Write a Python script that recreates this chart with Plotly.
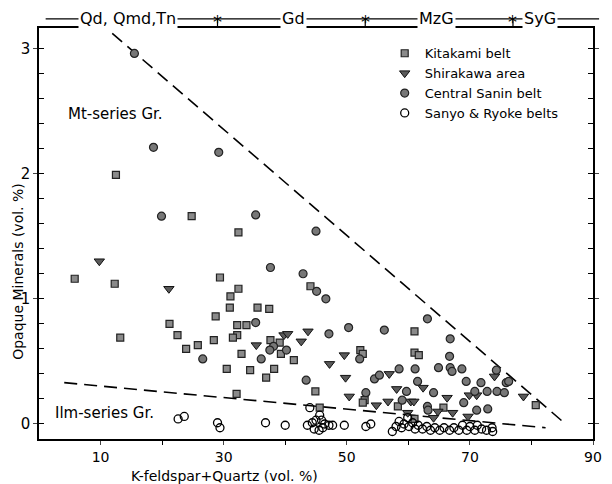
import plotly.graph_objects as go

# ---------------- data ----------------
kitakami_x = [12.5, 24.8, 32.4, 29.4, 5.8, 12.3, 32.4, 44.1, 31.1, 31.0, 35.5, 37.4, 28.7, 21.2,
              32.2, 33.7, 32.2, 31.5, 22.5, 13.2, 28.4, 25.8, 23.9, 30.5, 37.6, 39.1, 39.3, 32.9,
              41.4, 34.3, 38.2, 36.9, 52.2, 52.6, 32.1, 44.9, 52.9, 52.6, 45.6, 61.0, 61.0, 61.7,
              58.3, 65.7, 80.7, 61.0]
kitakami_y = [1.99, 1.66, 1.53, 1.17, 1.16, 1.12, 1.08, 1.10, 1.02, 0.93, 0.93, 0.92, 0.86, 0.80,
              0.79, 0.79, 0.71, 0.69, 0.71, 0.69, 0.67, 0.63, 0.60, 0.44, 0.67, 0.65, 0.56, 0.56,
              0.51, 0.43, 0.44, 0.37, 0.59, 0.56, 0.24, 0.26, 0.19, 0.17, 0.13, 0.74, 0.57, 0.55,
              0.14, 0.13, 0.15, 0.04]

shirakawa_x = [9.8, 21.1, 35.3, 39.8, 40.4, 43.7, 42.6, 47.2, 49.6, 49.8, 56.9, 50.4, 54.8, 56.7,
               74.0, 62.4, 58.1, 66.3, 71.1, 69.9, 78.7, 60.4, 60.9, 64.8, 67.2, 69.7, 59.9, 64.1]
shirakawa_y = [1.30, 1.08, 0.63, 0.71, 0.72, 0.74, 0.66, 0.48, 0.55, 0.37, 0.40, 0.22, 0.15, 0.18,
               0.38, 0.29, 0.28, 0.21, 0.23, 0.23, 0.22, 0.18, 0.18, 0.10, 0.09, 0.06, 0.09, 0.05]

sanin_x = [15.5, 18.6, 29.2, 19.9, 35.2, 45.0, 37.6, 42.9, 45.1, 46.6, 35.2, 26.6, 38.1, 37.5,
           40.2, 47.1, 50.3, 56.1, 36.1, 52.1, 43.4, 54.5, 55.3, 53.1, 63.1, 66.8, 66.7, 58.5,
           61.1, 64.9, 66.8, 67.1, 68.7, 74.3, 75.9, 76.3, 61.5, 69.4, 71.8, 59.7, 64.1, 70.8,
           72.8, 74.4, 75.6, 59.0, 63.1, 63.2, 69.0, 71.1, 72.9]
sanin_y = [2.96, 2.21, 2.17, 1.66, 1.67, 1.54, 1.25, 1.20, 1.06, 1.00, 0.81, 0.52, 0.62, 0.59,
           0.59, 0.72, 0.77, 0.75, 0.52, 0.52, 0.35, 0.36, 0.39, 0.25, 0.84, 0.68, 0.54, 0.44,
           0.44, 0.45, 0.45, 0.42, 0.44, 0.43, 0.33, 0.34, 0.34, 0.34, 0.33, 0.26, 0.25, 0.26,
           0.26, 0.26, 0.25, 0.19, 0.14, 0.11, 0.17, 0.11, 0.12]

sanyo_x = [22.6, 23.6, 29.0, 29.4, 36.8, 40.0, 44.0, 43.6, 44.4, 45.0, 45.6, 45.9, 46.4, 47.1,
           47.7, 44.7, 45.5, 46.1, 49.6, 53.1, 53.9, 57.4, 58.0, 58.5, 58.9, 59.3, 59.9, 60.1,
           60.7, 61.1, 61.6, 62.3, 63.0, 63.6, 64.3, 65.1, 65.8, 66.7, 67.4, 68.2, 68.8, 69.5,
           70.0, 70.8, 71.2, 71.9, 72.7, 73.6, 73.7]
sanyo_y = [0.04, 0.06, 0.01, -0.03, 0.01, -0.01, 0.13, -0.01, 0.01, 0.03, 0.07, 0.03, 0.00, -0.01,
           -0.01, -0.04, -0.05, -0.03, -0.01, -0.02, 0.00, -0.06, -0.02, 0.02, -0.03, 0.00, 0.05, -0.02,
           0.01, -0.04, -0.01, -0.04, -0.02, -0.05, -0.03, -0.05, -0.03, -0.05, -0.03, -0.05, -0.01, -0.05,
           -0.02, -0.05, -0.01, -0.04, -0.05, -0.03, -0.06]

# boundary lines (Mt-series / Ilm-series)
mt_line_x = [11.9, 85.3]
mt_line_y = [3.12, 0.01]
ilm_line_x = [4.1, 82.3]
ilm_line_y = [0.33, -0.03]

# rock-type bar at top
group_bounds = [29, 53, 77]
group_labels = ["Qd, Qmd,Tn", "Gd", "MzG", "SyG"]
group_label_x = [14.5, 41.3, 64.5, 81.4]

x_ticks = [10, 30, 50, 70, 90]
x_minor = [20, 40, 60, 80]
y_ticks = [0, 1, 2, 3]

FONT = "DejaVu Sans"

fig = go.Figure()

fig.add_trace(go.Scatter(x=mt_line_x, y=mt_line_y, mode="lines", showlegend=False,
                         line=dict(color="black", width=1.6, dash="13px,7px"), hoverinfo="skip"))
fig.add_trace(go.Scatter(x=ilm_line_x, y=ilm_line_y, mode="lines", showlegend=False,
                         line=dict(color="black", width=1.6, dash="13px,7px"), hoverinfo="skip"))

fig.add_trace(go.Scatter(x=kitakami_x, y=kitakami_y, mode="markers", name="Kitakami belt",
                         marker=dict(symbol="square", size=7, color="#8a8a8a",
                                     line=dict(color="#222", width=1.2))))
fig.add_trace(go.Scatter(x=shirakawa_x, y=shirakawa_y, mode="markers", name="Shirakawa area",
                         marker=dict(symbol="triangle-down", size=9, color="#5a5a5a",
                                     line=dict(color="#111", width=1))))
fig.add_trace(go.Scatter(x=sanin_x, y=sanin_y, mode="markers", name="Central Sanin belt",
                         marker=dict(symbol="circle", size=8, color="#777777",
                                     line=dict(color="#222", width=1.2))))
fig.add_trace(go.Scatter(x=sanyo_x, y=sanyo_y, mode="markers", name="Sanyo & Ryoke belts",
                         marker=dict(symbol="circle-open", size=8, color="black", line=dict(width=1.3))))

YR = [-0.12, 3.163]

# page body has an 8px margin, so the figure is 8px smaller each way
fig.update_layout(
    width=604, height=476,
    margin=dict(l=31, r=10, t=20, b=45),
    paper_bgcolor="white", plot_bgcolor="white",
    font=dict(family=FONT, size=14, color="black"),
    xaxis=dict(range=[0, 90], tickvals=x_ticks, ticks="outside", ticklen=4, tickwidth=1.2,
               showgrid=False, zeroline=False, showline=True, linecolor="black", linewidth=1.5,
               mirror=True, tickfont=dict(size=14),
               minor=dict(tickvals=x_minor, ticks="outside", ticklen=4, tickwidth=1.2, tickcolor="black")),
    yaxis=dict(range=YR, tickvals=y_ticks, ticks="outside", ticklen=4, tickwidth=1.2,
               showgrid=False, zeroline=False, showline=True, linecolor="black", linewidth=1.5,
               mirror="allticks", tickfont=dict(size=15),
               minor=dict(dtick=0.2, tick0=0, ticks="inside", ticklen=5, tickwidth=1.2, tickcolor="black")),
    legend=dict(x=0.624, y=0.975, xanchor="left", yanchor="top", bgcolor="rgba(0,0,0,0)",
                font=dict(size=13), itemwidth=30, tracegroupgap=0),
    showlegend=True,
)

# axis titles
fig.add_annotation(text="K-feldspar+Quartz (vol. %)", xref="paper", yref="paper",
                   x=0.334, y=-0.089, xanchor="center", yanchor="middle",
                   showarrow=False, font=dict(size=14))
fig.add_annotation(text="Opaque Minerals (vol. %)", xref="paper", yref="paper",
                   x=-0.038, y=0.409, xanchor="center", yanchor="middle",
                   showarrow=False, textangle=-90, font=dict(size=14))

# region labels
fig.add_annotation(text="Mt-series Gr.", x=12.5, y=2.48, showarrow=False, font=dict(size=15),
                   xanchor="center", yanchor="middle")
fig.add_annotation(text="Ilm-series Gr.", x=10.7, y=0.09, showarrow=False, font=dict(size=15),
                   xanchor="center", yanchor="middle")

# top rock-type bar
BAR_Y = 1.022
fig.add_shape(type="line", xref="paper", yref="paper", x0=0.012, x1=1.011, y0=BAR_Y, y1=BAR_Y,
              line=dict(color="black", width=1.2))
for gb in group_bounds:
    fig.add_shape(type="line", xref="x", yref="paper", x0=gb, x1=gb, y0=1.0, y1=BAR_Y,
                  line=dict(color="black", width=1.2))
    fig.add_annotation(text="*", x=gb, xref="x", yref="paper", y=BAR_Y, showarrow=False,
                       font=dict(size=18, color="black"), xanchor="center", yanchor="middle",
                       yshift=-3)
for lab, lx in zip(group_labels, group_label_x):
    fig.add_annotation(text=lab, x=lx, xref="x", yref="paper", y=BAR_Y, showarrow=False,
                       font=dict(size=16), bgcolor="white", borderpad=1,
                       xanchor="center", yanchor="middle")

fig.write_html("out.html")
